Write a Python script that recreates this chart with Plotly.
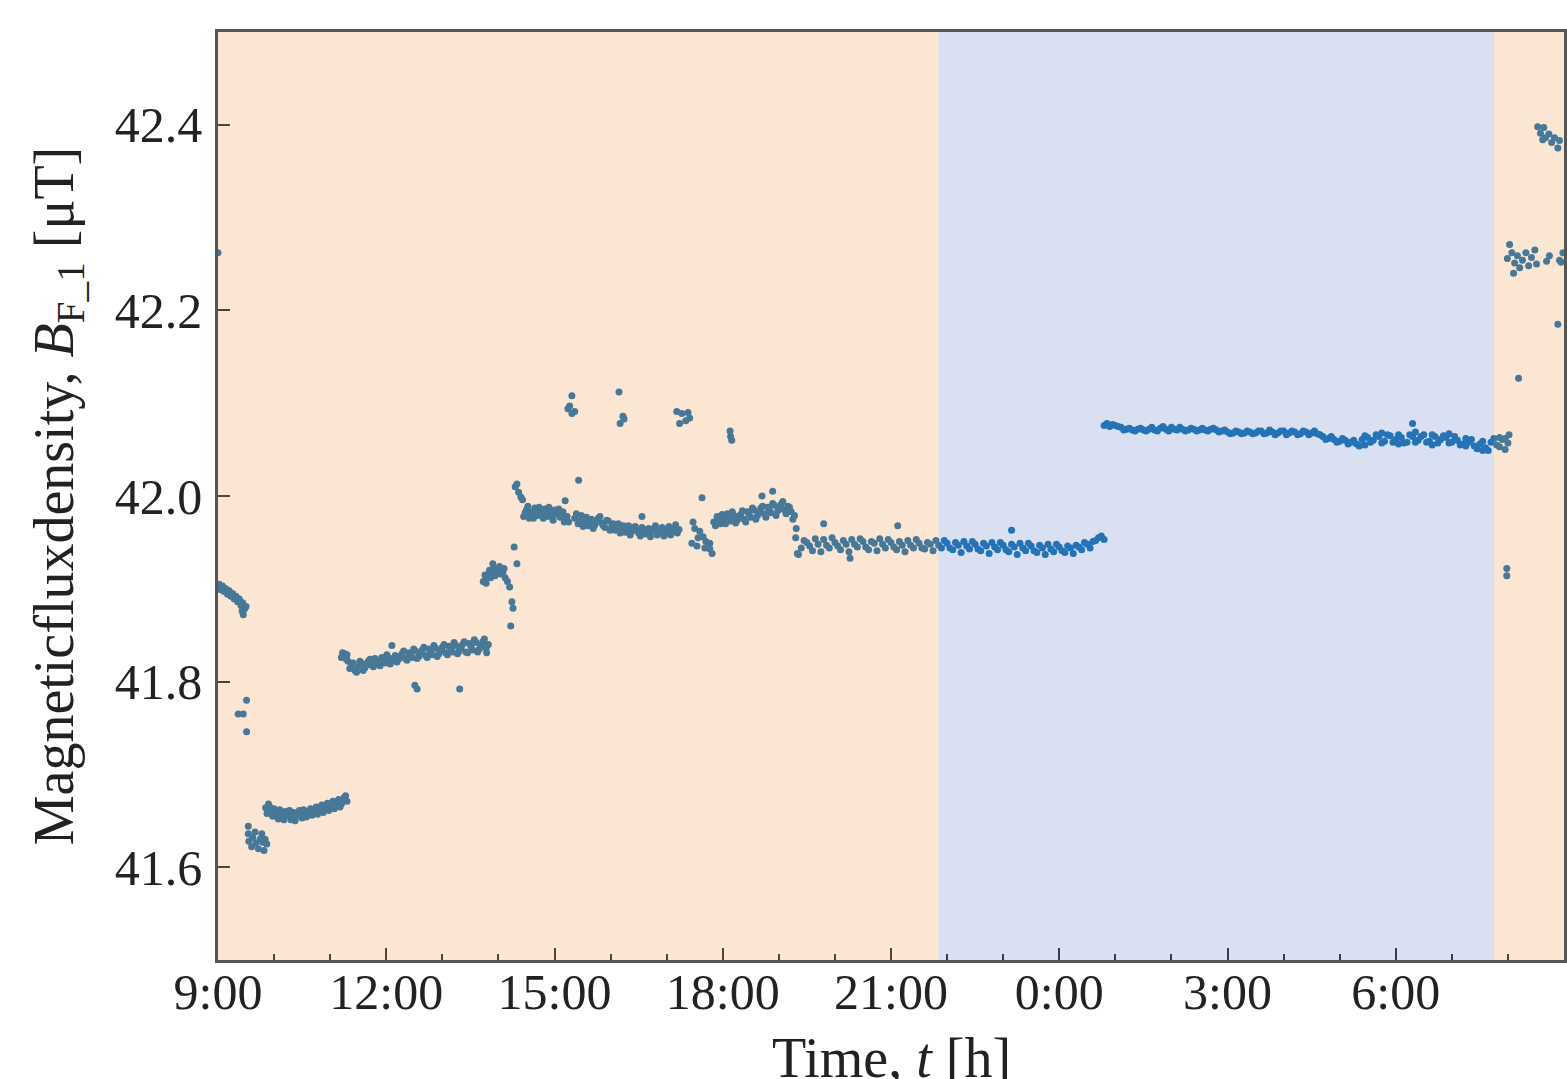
import plotly.graph_objects as go

# ---------------- data (hours since 9:00, magnetic flux density in uT) ----------------
t_start = [0.00]
b_start = [42.262]

t_a = [0.02, 0.05, 0.08, 0.11, 0.14, 0.17, 0.20, 0.23, 0.26, 0.29, 0.32, 0.35, 0.38, 0.41, 0.44, 0.47, 0.50, 0.43, 0.45]
b_a = [41.905, 41.899, 41.903, 41.897, 41.900, 41.894, 41.898, 41.892, 41.895, 41.889, 41.892, 41.886, 41.889, 41.882, 41.885, 41.878, 41.881, 41.876, 41.872]

t_drop = [0.51, 0.36, 0.45, 0.51]
b_drop = [41.780, 41.765, 41.765, 41.746]

t_b = [0.54, 0.54, 0.55, 0.60, 0.62, 0.66, 0.68, 0.72, 0.75, 0.78, 0.80, 0.84, 0.87, 0.82]
b_b = [41.644, 41.636, 41.628, 41.622, 41.632, 41.638, 41.626, 41.620, 41.630, 41.636, 41.627, 41.630, 41.625, 41.618]

t_c = [0.85, 0.90, 0.95, 1.00, 1.05, 1.10, 1.15, 1.20, 1.25, 1.30, 1.35, 1.40, 1.45, 1.50, 1.55,
       1.60, 1.65, 1.70, 1.75, 1.80, 1.85, 1.90, 1.95, 2.00, 2.05, 2.10, 2.15, 2.20, 2.25, 2.30]
b_c = [41.664, 41.668, 41.659, 41.663, 41.656, 41.662, 41.654, 41.660, 41.657, 41.651, 41.659, 41.655, 41.661, 41.653, 41.660,
       41.657, 41.663, 41.658, 41.665, 41.660, 41.667, 41.662, 41.669, 41.664, 41.671, 41.666, 41.673, 41.668, 41.675, 41.671]
t_c2 = [0.875, 0.925, 0.975, 1.025, 1.075, 1.125, 1.175, 1.225, 1.275, 1.325, 1.375, 1.425, 1.475, 1.525, 1.575,
        1.625, 1.675, 1.725, 1.775, 1.825, 1.875, 1.925, 1.975, 2.025, 2.075, 2.125, 2.175, 2.225, 2.275]
b_c2 = [41.658, 41.665, 41.655, 41.660, 41.652, 41.657, 41.651, 41.656, 41.661, 41.655, 41.650, 41.658, 41.656, 41.662, 41.654,
        41.660, 41.656, 41.662, 41.657, 41.663, 41.659, 41.665, 41.661, 41.667, 41.663, 41.669, 41.665, 41.671, 41.677]

t_d = [2.20, 2.22, 2.26, 2.30, 2.32, 2.38, 2.44, 2.50, 2.56, 2.62, 2.68, 2.74, 2.80, 2.86, 2.92, 2.98, 3.04, 3.10, 3.16,
       3.22, 3.28, 3.34, 3.40, 3.46, 3.52, 3.58, 3.64, 3.70, 3.76, 3.82, 3.88, 3.94, 4.00, 4.06, 4.12, 4.18, 4.24,
       4.30, 4.36, 4.42, 4.48, 4.54, 4.60, 4.66, 4.72, 4.78, 4.82]
b_d = [41.826, 41.831, 41.830, 41.829, 41.822, 41.818, 41.812, 41.816, 41.820, 41.815, 41.822, 41.818, 41.825, 41.819, 41.826, 41.820, 41.826, 41.822, 41.828,
       41.824, 41.830, 41.825, 41.831, 41.826, 41.833, 41.827, 41.834, 41.828, 41.835, 41.829, 41.836, 41.830, 41.837, 41.831, 41.838, 41.832, 41.839,
       41.833, 41.840, 41.832, 41.841, 41.834, 41.842, 41.835, 41.843, 41.836, 41.840]
t_d2 = [2.29, 2.35, 2.41, 2.47, 2.53, 2.59, 2.65, 2.71, 2.77, 2.83, 2.89, 2.95, 3.01, 3.07, 3.13, 3.19, 3.25, 3.31, 3.37,
        3.43, 3.49, 3.55, 3.61, 3.67, 3.73, 3.79, 3.85, 3.91, 3.97, 4.03, 4.09, 4.15, 4.21, 4.27, 4.33, 4.39, 4.45,
        4.51, 4.57, 4.63, 4.69, 4.75, 4.79]
b_d2 = [41.824, 41.814, 41.820, 41.810, 41.822, 41.812, 41.818, 41.824, 41.816, 41.822, 41.817, 41.823, 41.829, 41.819, 41.825, 41.821, 41.827, 41.833, 41.823,
        41.829, 41.835, 41.825, 41.831, 41.837, 41.826, 41.832, 41.839, 41.827, 41.834, 41.840, 41.829, 41.835, 41.842, 41.830, 41.836, 41.843, 41.831,
        41.838, 41.845, 41.832, 41.839, 41.846, 41.831]
t_d_out = [3.10, 3.51, 3.55, 4.31]
b_d_out = [41.839, 41.796, 41.792, 41.792]

t_e = [4.73, 4.76, 4.80, 4.84, 4.88, 4.90, 4.92, 4.96, 5.00, 5.04, 5.08, 5.12, 5.16, 5.20, 4.78, 4.86, 4.94, 5.02, 5.10]
b_e = [41.908, 41.915, 41.912, 41.920, 41.916, 41.927, 41.923, 41.919, 41.921, 41.916, 41.918, 41.912, 41.908, 41.902, 41.906, 41.912, 41.914, 41.924, 41.922]
t_e_out = [5.28, 5.33, 5.24, 5.26, 5.22]
b_e_out = [41.945, 41.927, 41.886, 41.879, 41.860]

t_f = [5.30, 5.33, 5.36, 5.40, 5.43]
b_f = [42.010, 42.013, 42.004, 41.999, 41.996]

t_g1 = [5.45, 5.50, 5.55, 5.60, 5.65, 5.70, 5.75, 5.80, 5.85, 5.90, 5.95, 6.00, 6.05, 6.10, 6.15, 6.20, 6.25, 6.19, 6.43,
        5.475, 5.525, 5.575, 5.625, 5.675, 5.725, 5.775, 5.825, 5.875, 5.925, 5.975, 6.025, 6.075, 6.125, 6.175, 6.225]
b_g1 = [41.978, 41.985, 41.976, 41.983, 41.987, 41.979, 41.984, 41.976, 41.982, 41.988, 41.979, 41.985, 41.980, 41.977, 41.983, 41.975, 41.972, 41.995, 42.017,
        41.982, 41.989, 41.980, 41.976, 41.983, 41.988, 41.980, 41.986, 41.978, 41.984, 41.974, 41.982, 41.986, 41.979, 41.972, 41.978]

t_g2 = [6.36, 6.42, 6.48, 6.54, 6.60, 6.66, 6.72, 6.78, 6.84, 6.90, 6.96, 7.02, 7.08, 7.14, 7.20, 7.26,
        7.32, 7.38, 7.44, 7.50, 7.56, 7.62, 7.68, 7.74, 7.80, 7.86, 7.92, 7.98, 8.04, 8.10, 8.16, 8.22, 7.56]
b_g2 = [41.976, 41.970, 41.979, 41.972, 41.968, 41.975, 41.969, 41.976, 41.971, 41.966, 41.973, 41.967, 41.963, 41.970, 41.965, 41.961,
        41.968, 41.962, 41.967, 41.960, 41.966, 41.959, 41.965, 41.962, 41.968, 41.961, 41.966, 41.960, 41.967, 41.962, 41.969, 41.964, 41.978]
t_g3 = [6.39, 6.45, 6.51, 6.57, 6.63, 6.69, 6.75, 6.81, 6.87, 6.93, 6.99, 7.05, 7.11, 7.17, 7.23, 7.29,
        7.35, 7.41, 7.47, 7.53, 7.59, 7.65, 7.71, 7.77, 7.83, 7.89, 7.95, 8.01, 8.07, 8.13, 8.19]
b_g3 = [41.981, 41.973, 41.967, 41.977, 41.971, 41.965, 41.973, 41.978, 41.968, 41.974, 41.963, 41.970, 41.966, 41.960, 41.968, 41.964,
        41.958, 41.966, 41.963, 41.957, 41.964, 41.961, 41.956, 41.965, 41.958, 41.963, 41.957, 41.964, 41.958, 41.965, 41.960]

t_high = [6.31, 6.24, 6.36, 6.31, 6.27, 7.15, 7.22, 7.17, 7.24, 8.18, 8.27, 8.38, 8.41, 8.23, 8.34, 9.13, 9.16, 9.14]
b_high = [42.108, 42.094, 42.091, 42.089, 42.097, 42.112, 42.086, 42.078, 42.083, 42.091, 42.089, 42.090, 42.084, 42.078, 42.081, 42.070, 42.060, 42.064]

t_h = [8.47, 8.50, 8.59, 8.65, 8.70, 8.77, 8.81, 8.77, 8.45, 8.54, 8.63, 8.56, 8.68]
b_h = [41.972, 41.965, 41.962, 41.956, 41.951, 41.949, 41.938, 41.943, 41.949, 41.946, 41.998, 41.955, 41.944]

t_i = [8.84, 8.90, 8.96, 9.02, 9.08, 9.14, 9.20, 9.26, 9.32, 9.38, 9.44, 9.50, 9.56, 9.62, 9.68, 9.74, 9.80,
       9.86, 9.92, 9.98, 10.04, 10.10, 10.16, 10.22, 10.28, 9.89, 9.70]
b_i = [41.972, 41.978, 41.970, 41.976, 41.981, 41.973, 41.979, 41.974, 41.980, 41.975, 41.983, 41.977, 41.985, 41.979, 41.987, 41.981, 41.988,
       41.982, 41.990, 41.984, 41.991, 41.985, 41.989, 41.983, 41.979, 42.005, 42.000]
t_i2 = [8.87, 8.93, 8.99, 9.05, 9.11, 9.17, 9.23, 9.29, 9.35, 9.41, 9.47, 9.53, 9.59, 9.65, 9.71, 9.77,
        9.83, 9.89, 9.95, 10.01, 10.07, 10.13, 10.19, 10.25]
b_i2 = [41.968, 41.975, 41.980, 41.970, 41.977, 41.983, 41.971, 41.978, 41.984, 41.972, 41.980, 41.987, 41.975, 41.982, 41.989, 41.977,
        41.985, 41.992, 41.979, 41.987, 41.994, 41.981, 41.988, 41.975]

t_j = [10.30, 10.31, 10.33, 10.40, 10.50, 10.60, 10.70, 10.80, 10.90, 11.00, 11.10, 11.20, 11.30, 11.40, 11.50, 11.60, 11.70,
       11.80, 11.90, 12.00, 12.10, 12.20, 12.30, 12.40, 12.50, 12.60, 12.70, 12.80, 12.90, 13.00, 13.10, 13.20, 13.30,
       13.40, 13.50, 13.60, 13.70, 13.80, 13.90, 14.00, 14.10, 14.20, 14.30, 14.40, 14.50, 14.60, 14.70, 14.80, 14.90,
       15.00, 15.10, 15.20, 15.30, 15.40, 15.50, 15.60, 15.70, 15.80]
b_j = [41.955, 41.965, 41.938, 41.944, 41.950, 41.941, 41.948, 41.953, 41.944, 41.950, 41.942, 41.948, 41.953, 41.945, 41.951, 41.942, 41.949,
       41.954, 41.944, 41.950, 41.942, 41.947, 41.952, 41.944, 41.949, 41.943, 41.948, 41.952, 41.944, 41.949, 41.942, 41.947, 41.951,
       41.943, 41.948, 41.941, 41.946, 41.950, 41.942, 41.947, 41.940, 41.945, 41.949, 41.941, 41.946, 41.939, 41.944, 41.948, 41.940,
       41.945, 41.939, 41.944, 41.947, 41.942, 41.948, 41.951, 41.955, 41.953]
t_j2 = [10.35, 10.45, 10.55, 10.65, 10.75, 10.85, 10.95, 11.05, 11.15, 11.25, 11.35, 11.45, 11.55, 11.65, 11.75, 11.85, 11.95,
        12.05, 12.15, 12.25, 12.35, 12.45, 12.55, 12.65, 12.75, 12.85, 12.95, 13.05, 13.15, 13.25, 13.35, 13.45, 13.55,
        13.65, 13.75, 13.85, 13.95, 14.05, 14.15, 14.25, 14.35, 14.45, 14.55, 14.65, 14.75, 14.85, 14.95, 15.05, 15.15,
        15.25, 15.35, 15.45, 15.55, 15.65, 15.75]
b_j2 = [41.937, 41.952, 41.946, 41.954, 41.940, 41.947, 41.955, 41.946, 41.952, 41.940, 41.948, 41.954, 41.945, 41.951, 41.941, 41.948, 41.953,
        41.945, 41.951, 41.940, 41.947, 41.953, 41.944, 41.950, 41.941, 41.947, 41.952, 41.944, 41.950, 41.939, 41.946, 41.951, 41.943,
        41.949, 41.938, 41.945, 41.950, 41.942, 41.948, 41.937, 41.944, 41.949, 41.941, 41.947, 41.937, 41.943, 41.948, 41.941, 41.946,
        41.938, 41.945, 41.950, 41.944, 41.952, 41.957]
t_j_out = [10.80, 12.12, 11.27, 14.15]
b_j_out = [41.970, 41.968, 41.933, 41.963]

t_k = [15.80, 15.90, 16.00, 16.10, 16.20, 16.30, 16.40, 16.50, 16.60, 16.70, 16.80, 16.90, 17.00, 17.10, 17.20, 17.30,
       17.40, 17.50, 17.60, 17.70, 17.80, 17.90, 18.00, 18.10, 18.20, 18.30, 18.40, 18.50, 18.60, 18.70, 18.80, 18.90,
       19.00, 19.10, 19.20, 19.30, 19.40, 19.50, 19.60, 19.70, 19.80, 19.90, 20.00, 20.10, 20.20, 20.30, 20.40, 20.50,
       20.60, 20.70, 20.80, 20.90, 21.00, 21.10, 21.20, 21.30, 21.40, 21.50, 21.60, 21.70, 21.80, 21.90, 22.00, 22.10,
       22.20, 22.30, 22.40, 22.50, 22.60, 22.70, 22.80, 22.90, 23.00]
b_k = [42.076, 42.075, 42.076, 42.074, 42.072, 42.071, 42.072, 42.071, 42.072, 42.071, 42.073, 42.072, 42.074, 42.071, 42.072, 42.071,
       42.072, 42.071, 42.071, 42.072, 42.071, 42.070, 42.069, 42.068, 42.069, 42.068, 42.069, 42.068, 42.070, 42.068, 42.069, 42.068,
       42.070, 42.068, 42.069, 42.067, 42.069, 42.068, 42.067, 42.064, 42.062, 42.061, 42.059, 42.060, 42.058, 42.056, 42.061, 42.063,
       42.060, 42.064, 42.059, 42.065, 42.061, 42.063, 42.058, 42.064, 42.060, 42.066, 42.059, 42.064, 42.061, 42.063, 42.058, 42.060,
       42.056, 42.058, 42.054, 42.056, 42.052, 42.058, 42.055, 42.061, 42.057]
t_k2 = [15.85, 15.95, 16.05, 16.15, 16.25, 16.35, 16.45, 16.55, 16.65, 16.75, 16.85, 16.95, 17.05, 17.15, 17.25, 17.35,
        17.45, 17.55, 17.65, 17.75, 17.85, 17.95, 18.05, 18.15, 18.25, 18.35, 18.45, 18.55, 18.65, 18.75, 18.85, 18.95,
        19.05, 19.15, 19.25, 19.35, 19.45, 19.55, 19.65, 19.75, 19.85, 19.95, 20.05, 20.15, 20.25, 20.35, 20.45, 20.55,
        20.65, 20.75, 20.85, 20.95, 21.05, 21.15, 21.25, 21.35, 21.45, 21.55, 21.65, 21.75, 21.85, 21.95, 22.05, 22.15,
        22.25, 22.35, 22.45, 22.55, 22.65, 22.75, 22.85, 22.95]
b_k2 = [42.078, 42.077, 42.075, 42.071, 42.073, 42.070, 42.073, 42.070, 42.074, 42.070, 42.075, 42.070, 42.072, 42.074, 42.070, 42.073,
        42.070, 42.073, 42.070, 42.073, 42.069, 42.071, 42.067, 42.070, 42.067, 42.070, 42.067, 42.070, 42.067, 42.071, 42.066, 42.070,
        42.066, 42.070, 42.066, 42.070, 42.066, 42.070, 42.066, 42.061, 42.064, 42.058, 42.062, 42.056, 42.060, 42.054, 42.065, 42.058,
        42.066, 42.057, 42.066, 42.058, 42.066, 42.057, 42.066, 42.058, 42.064, 42.058, 42.066, 42.057, 42.065, 42.057, 42.064, 42.055,
        42.054, 42.061, 42.051, 42.059, 42.049, 42.062, 42.053, 42.062]
t_k_extra = [20.45, 20.75, 21.05, 21.35, 21.65, 21.95, 22.25, 22.55, 22.85, 22.95, 23.02, 21.30]
b_k_extra = [42.055, 42.068, 42.056, 42.069, 42.055, 42.067, 42.062, 42.049, 42.063, 42.050, 42.066, 42.078]

t_l = [22.98, 22.98, 22.99, 23.07, 23.12, 23.17, 23.21, 23.26, 23.32, 23.37, 23.42, 23.48, 23.51, 23.03, 23.10,
       23.69, 23.74, 23.92, 23.98, 23.95, 23.19, 23.89]
b_l = [41.922, 41.914, 42.256, 42.262, 42.251, 42.259, 42.246, 42.254, 42.262, 42.248, 42.257, 42.265, 42.250, 42.271, 42.240,
       42.253, 42.259, 42.254, 42.262, 42.252, 42.127, 42.185]

t_top = [23.53, 23.58, 23.64, 23.67, 23.73, 23.78, 23.83, 23.89, 23.92, 23.62]
b_top = [42.398, 42.391, 42.397, 42.386, 42.390, 42.381, 42.386, 42.375, 42.383, 42.384]

# periods (hours since 9:00)
day1_end = 12.85
night_end = 22.75
x_max = 24.0

x_tickvals = [0, 3, 6, 9, 12, 15, 18, 21]
x_ticktext = ["9:00", "12:00", "15:00", "18:00", "21:00", "0:00", "3:00", "6:00"]
y_tickvals = [41.6, 41.8, 42.0, 42.2, 42.4]
y_ticktext = ["41.6", "41.8", "42.0", "42.2", "42.4"]

x_title = "Time, <i>t</i> [h]"
y_title = "Magneticfluxdensity, <i>B</i><sub>F_1</sub> [μT]"

# ---------------- figure ----------------
t_all = (t_start + t_a + t_drop + t_b + t_c + t_c2 + t_d + t_d2 + t_d_out + t_e + t_e_out + t_f + t_g1 + t_g2 + t_g3
         + t_high + t_h + t_i + t_i2 + t_j + t_j2 + t_j_out + t_k + t_k2 + t_k_extra + t_l + t_top)
b_all = (b_start + b_a + b_drop + b_b + b_c + b_c2 + b_d + b_d2 + b_d_out + b_e + b_e_out + b_f + b_g1 + b_g2 + b_g3
         + b_high + b_h + b_i + b_i2 + b_j + b_j2 + b_j_out + b_k + b_k2 + b_k_extra + b_l + b_top)

FONT = "Liberation Serif"

fig = go.Figure()
fig.add_trace(go.Scatter(
    x=t_all, y=b_all, mode="markers",
    marker=dict(color="#1f77b4", size=7, line=dict(width=0)),
    showlegend=False, hoverinfo="skip",
))

orange = "rgba(235,125,35,0.2)"
blue = "rgba(60,100,190,0.2)"
for x0, x1, c in [(0, day1_end, orange), (day1_end, night_end, blue), (night_end, x_max, orange)]:
    fig.add_shape(type="rect", xref="x", yref="paper", x0=x0, x1=x1, y0=0, y1=1,
                  fillcolor=c, line=dict(width=0), layer="above")

axis_common = dict(
    showline=True, linecolor="#555555", linewidth=2.5, mirror=True,
    ticks="inside", ticklen=12, tickwidth=2, tickcolor="#333333",
    showgrid=False, zeroline=False,
    tickfont=dict(family=FONT, size=50, color="#222222"),
)

fig.update_xaxes(
    range=[0, x_max], tickmode="array", tickvals=x_tickvals, ticktext=x_ticktext,
    minor=dict(dtick=1, tick0=0, ticks="inside", ticklen=6, tickwidth=1.5, tickcolor="#333333", showgrid=False),
    ticklabelstandoff=-14,
    **axis_common,
)
fig.update_yaxes(
    range=[41.5, 42.5], tickmode="array", tickvals=y_tickvals, ticktext=y_ticktext,
    title=dict(text=y_title, font=dict(family=FONT, size=56, color="#222222"), standoff=24),
    ticklabelstandoff=3,
    **axis_common,
)

# x-axis title placed as an annotation (its bottom runs off the lower edge, as in the reference)
fig.add_annotation(
    text=x_title, xref="paper", yref="paper", x=0.5, y=-0.0705,
    xanchor="center", yanchor="top", showarrow=False,
    font=dict(family=FONT, size=56, color="#222222"),
)

fig.update_layout(
    width=1567, height=1079,
    margin=dict(l=218, r=3, t=32, b=119, autoexpand=False),
    paper_bgcolor="white", plot_bgcolor="white",
)

fig.write_html(
    "out.html",
    config={"displayModeBar": False},
    post_script="document.body.style.margin='0';document.body.style.overflow='hidden';",
)
